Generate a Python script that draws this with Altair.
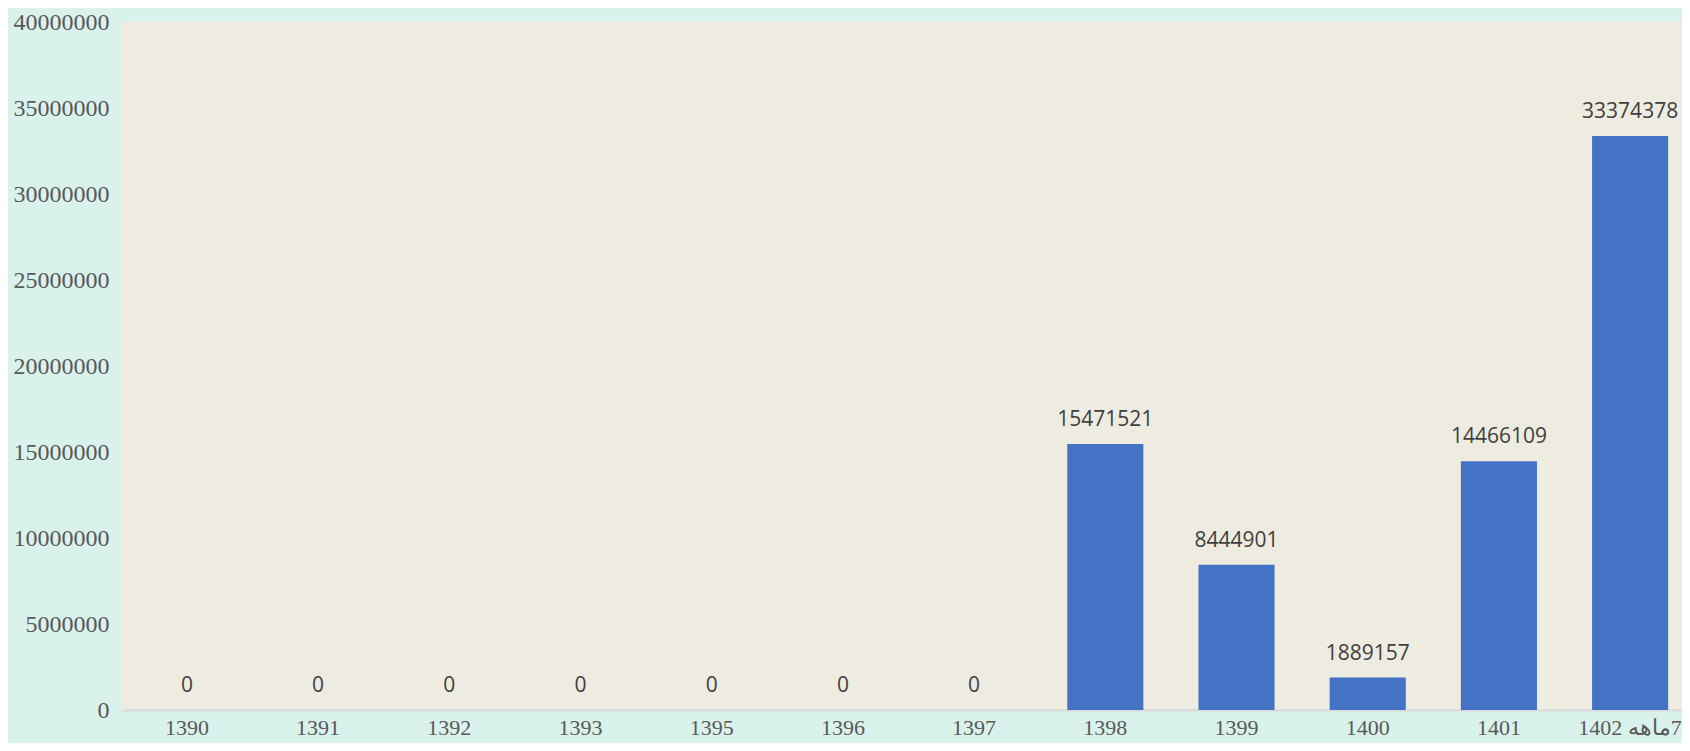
import altair as alt
import pandas as pd

categories = ["1390", "1391", "1392", "1393", "1395", "1396", "1397",
              "1398", "1399", "1400", "1401", "\u202B7ماهه 1402\u202C"]
values = [0, 0, 0, 0, 0, 0, 0, 15471521, 8444901, 1889157, 14466109, 33374378]
y_ticks = [0, 5000000, 10000000, 15000000, 20000000, 25000000, 30000000, 35000000, 40000000]

df = pd.DataFrame({"cat": categories, "val": values})

x_enc = alt.X("cat:N", sort=categories, title=None,
              scale=alt.Scale(paddingInner=0.42, paddingOuter=0.155, align=0.66),
              axis=alt.Axis(labelAngle=0, labelFont="Liberation Serif", labelFontSize=22,
                            labelColor="#595959", labelPadding=7, ticks=False,
                            domainColor="#D9D9D9", domainWidth=2, labelBaseline="top"))
y_enc = alt.Y("val:Q", title=None,
              scale=alt.Scale(domain=[0, 40000000], nice=False),
              axis=alt.Axis(values=y_ticks, format="d", grid=False, domain=False, ticks=False,
                            labelFont="Liberation Serif", labelFontSize=24,
                            labelColor="#595959", labelPadding=13))

bars = alt.Chart(df).mark_bar(color="#4472C4").encode(x=x_enc, y=y_enc)

labels = alt.Chart(df).mark_text(font="Open Sans", fontSize=21, color="#404040",
                                 baseline="alphabetic", dy=-18).encode(
    x=alt.X("cat:N", sort=categories), y="val:Q", text=alt.Text("val:Q", format="d"))

chart = (bars + labels).properties(
    width=1560, height=688,
    background="#D9F2EC",
    padding={"left": 114, "top": 14, "right": 0, "bottom": 33},
    autosize=alt.AutoSizeParams(type="none"),
).configure_view(fill="#EEEBE1", stroke=None)

chart.save("out.html", embed_options={"renderer": "svg", "actions": False})
